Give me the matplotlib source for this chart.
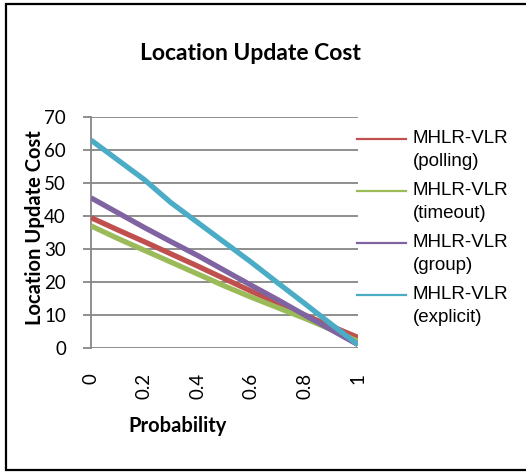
import matplotlib
matplotlib.use("Agg")
import matplotlib.pyplot as plt
from matplotlib.lines import Line2D

# data
probability = [0.0, 0.1, 0.2, 0.3, 0.4, 0.5, 0.6, 0.7, 0.8, 0.9, 1.0]
polling = [39.5, 35.8, 32.2, 28.5, 24.8, 21.0, 17.2, 13.6, 10.0, 6.6, 3.2]
timeout = [37.0, 33.2, 29.6, 26.0, 22.4, 18.8, 15.4, 12.2, 9.0, 5.6, 2.0]
group = [45.5, 41.0, 36.5, 32.2, 28.0, 23.5, 19.0, 14.6, 10.0, 5.5, 1.0]
explicit = [63.0, 57.0, 51.0, 44.0, 38.0, 32.0, 26.0, 19.7, 13.5, 7.2, 1.0]

series = [polling, timeout, group, explicit]
labels = ["MHLR-VLR\n(polling)", "MHLR-VLR\n(timeout)", "MHLR-VLR\n(group)", "MHLR-VLR\n(explicit)"]
colors = ["#C0504D", "#9BBB59", "#8064A2", "#4BACC6"]

x_ticks = [0, 0.2, 0.4, 0.6, 0.8, 1.0]
x_ticklabels = ["0", "0.2", "0.4", "0.6", "0.8", "1"]
y_ticks = [0, 10, 20, 30, 40, 50, 60, 70]

W, H = 526, 472
calibri = ["Lato", "DejaVu Sans"]
arial = ["Liberation Sans", "DejaVu Sans"]

fig = plt.figure(figsize=(W / 100, H / 100), dpi=100)
ax = fig.add_axes([91 / W, 1 - 348 / H, (358 - 91) / W, (348 - 117) / H])

for vals, col in zip(series, colors):
    ax.plot(probability, vals, color=col, linewidth=3.8, solid_capstyle="butt", zorder=3)

ax.set_xlim(0, 1)
ax.set_ylim(0, 70)
ax.set_yticks(y_ticks)
ax.set_yticklabels([str(v) for v in y_ticks], family=calibri, fontsize=13.5)
ax.set_xticks(x_ticks)
ax.set_xticklabels(x_ticklabels, family=calibri, fontsize=13.5, rotation=90, va="top")

grid_col = "#868686"
ax.grid(axis="y", color=grid_col, linewidth=1.3, zorder=1)
ax.tick_params(axis="y", length=6, width=1.3, color=grid_col, pad=12)
ax.tick_params(axis="x", length=0, pad=18)
for side in ["top", "right", "bottom"]:
    ax.spines[side].set_visible(False)
ax.spines["left"].set_color(grid_col)
ax.spines["left"].set_linewidth(1.3)

# titles
fig.text(250 / W, 1 - 53 / H, "Location Update Cost", family=calibri, fontweight="bold",
         fontsize=16.5, ha="center", va="center")
fig.text(35 / W, 1 - 228 / H, "Location Update Cost", family=calibri, fontweight="bold",
         fontsize=14.5, rotation=90, ha="center", va="center")
fig.text(178 / W, 1 - 426 / H, "Probability", family=calibri, fontweight="bold",
         fontsize=14.5, ha="center", va="center")

# legend, drawn by hand so the swatch sits on the first text line
leg_y0, leg_step, line_gap = 138.5, 52, 23.5
for i, (lab, col) in enumerate(zip(labels, colors)):
    y = leg_y0 + i * leg_step
    fig.add_artist(Line2D([357 / W, 406 / W], [1 - y / H, 1 - y / H], color=col,
                          linewidth=1.6, transform=fig.transFigure))
    for j, part in enumerate(lab.split("\n")):
        fig.text(413 / W, 1 - (y + j * line_gap) / H, part, family=arial, fontsize=13.5,
                 ha="left", va="center")

# chart border (right edge lies outside the picture)
left, top, bottom = 6 / W, 1 - 4 / H, 1 - 470 / H
fig.add_artist(Line2D([1.02, left, left, 1.02], [top, top, bottom, bottom], color="black",
                      linewidth=1.6, transform=fig.transFigure, solid_joinstyle="miter"))

fig.savefig("out.png", dpi=100)
